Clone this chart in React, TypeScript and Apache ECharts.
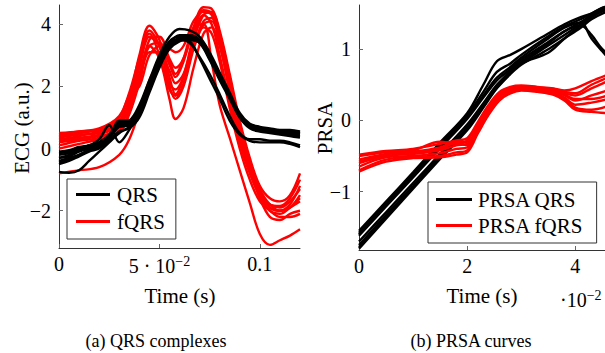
import React, { useEffect, useRef } from "react";
import * as echarts from "echarts";

// ---------- data ----------
const qrsTime = [0, 0.005, 0.01, 0.015, 0.02, 0.025, 0.03, 0.035, 0.04, 0.045, 0.05, 0.055, 0.06, 0.065, 0.07, 0.075, 0.08, 0.085, 0.09, 0.095, 0.1, 0.105, 0.11, 0.115, 0.12];
const qrs1 = [-0.3, -0.25, -0.1, 0.0, 0.1, 0.35, 0.7, 0.75, 1.2, 2.0, 2.75, 3.3, 3.55, 3.55, 3.45, 2.95, 2.3, 1.7, 1.05, 0.7, 0.6, 0.55, 0.5, 0.5, 0.45];
const qrs2 = [-0.1, -0.05, 0.05, 0.1, 0.2, 0.45, 0.85, 0.9, 1.4, 2.2, 3.0, 3.6, 3.85, 3.8, 3.6, 3.1, 2.45, 1.8, 1.15, 0.8, 0.7, 0.65, 0.6, 0.6, 0.55];
const qrs3 = [-0.5, -0.4, -0.25, -0.1, 0.0, 0.25, 0.55, 0.65, 1.0, 1.8, 2.6, 3.2, 3.45, 3.5, 3.4, 2.85, 2.2, 1.6, 1.0, 0.65, 0.55, 0.5, 0.45, 0.4, 0.35];
const qrs4 = [-0.75, -0.78, -0.7, -0.4, -0.1, 0.2, 0.5, 0.7, 1.1, 1.9, 2.7, 3.25, 3.5, 3.55, 3.45, 2.95, 2.3, 1.7, 1.05, 0.7, 0.6, 0.55, 0.5, 0.45, 0.45];
const qrs5 = [-0.2, -0.15, 0.0, 0.1, 0.3, 0.75, 0.2, 0.6, 1.15, 1.95, 2.75, 3.3, 3.5, 3.5, 3.4, 2.9, 2.25, 1.65, 1.0, 0.7, 0.6, 0.55, 0.5, 0.45, 0.4];
const qrs6 = [-0.4, -0.3, -0.2, -0.05, 0.05, 0.3, 0.9, 0.9, 1.35, 2.1, 2.9, 3.45, 3.6, 3.6, 3.5, 3.05, 2.4, 1.75, 1.1, 0.75, 0.65, 0.6, 0.55, 0.55, 0.5];
const qrs7 = [-0.3, -0.2, -0.05, 0.05, 0.15, 0.4, 0.75, 0.8, 1.3, 2.1, 2.9, 3.4, 3.5, 3.45, 2.9, 2.25, 1.6, 0.9, 0.45, 0.25, 0.2, 0.2, 0.2, 0.15, 0.05];
const qrs8 = [-0.45, -0.35, -0.2, -0.05, 0.1, 0.35, 0.7, 0.75, 1.25, 2.0, 2.85, 3.35, 3.5, 3.4, 2.95, 2.4, 1.75, 1.05, 0.5, 0.3, 0.3, 0.25, 0.25, 0.2, 0.1];
const qrs9 = [-0.15, -0.1, 0.0, 0.1, 0.2, 0.4, 0.8, 0.85, 1.3, 2.05, 2.85, 3.4, 3.65, 3.65, 3.5, 3.0, 2.35, 1.7, 1.05, 0.75, 0.65, 0.6, 0.55, 0.55, 0.5];

const fqrsTime = [0, 0.01, 0.02, 0.03, 0.035, 0.04, 0.045, 0.05, 0.055, 0.058, 0.062, 0.067, 0.072, 0.076, 0.08, 0.085, 0.09, 0.095, 0.1, 0.105, 0.11, 0.115, 0.12];
const fqrs1 = [0.4, 0.5, 0.6, 0.9, 1.6, 3.0, 3.95, 3.5, 2.3, 1.75, 2.3, 3.6, 4.3, 4.0, 3.0, 1.5, 0.2, -0.8, -1.5, -1.8, -1.9, -1.7, -1.3];
const fqrs2 = [0.2, 0.3, 0.4, 0.6, 1.2, 2.3, 3.3, 2.9, 1.6, 0.95, 1.3, 2.6, 3.7, 3.9, 3.3, 1.9, 0.5, -0.6, -1.4, -1.9, -2.0, -1.9, -1.7];
const fqrs3 = [0.3, 0.4, 0.55, 0.8, 1.4, 2.4, 3.3, 3.4, 2.8, 2.4, 2.9, 3.9, 4.0, 2.8, 1.4, 0.35, -0.7, -1.75, -2.75, -3.1, -2.95, -2.8, -2.6];
const fqrs4 = [0.45, 0.55, 0.6, 1.0, 1.7, 2.0, 3.0, 3.3, 2.7, 2.3, 2.8, 3.9, 4.55, 4.5, 3.8, 2.4, 0.9, -0.3, -1.2, -1.6, -1.7, -1.5, -0.8];
const fqrs5 = [0.1, 0.25, 0.35, 0.7, 1.5, 2.6, 3.6, 3.3, 2.1, 1.9, 2.3, 3.3, 4.1, 4.2, 3.5, 2.0, 0.5, -0.6, -1.5, -2.0, -2.1, -1.9, -1.6];
const fqrs6 = [-0.8, -0.7, -0.6, -0.2, 0.3, 1.2, 2.2, 2.8, 3.2, 3.1, 3.3, 4.1, 4.4, 4.3, 3.6, 2.2, 0.8, -0.4, -1.3, -1.8, -2.0, -1.9, -1.5];
const fqrs7 = [0.35, 0.45, 0.5, 0.85, 1.5, 2.8, 3.8, 3.3, 2.0, 1.6, 2.0, 3.2, 4.0, 4.1, 3.4, 1.8, 0.3, -0.7, -1.6, -2.2, -2.3, -2.1, -2.0];
const fqrs8 = [0.0, 0.15, 0.3, 0.5, 1.1, 2.1, 3.1, 3.1, 2.5, 2.1, 2.4, 3.5, 4.3, 4.4, 3.7, 2.3, 0.7, -0.5, -1.4, -1.9, -2.0, -1.8, -1.2];
const fqrs9 = [0.5, 0.55, 0.65, 1.05, 1.8, 2.9, 3.7, 3.0, 1.9, 1.7, 2.1, 3.3, 3.9, 3.7, 2.8, 1.3, 0.0, -1.0, -1.7, -2.0, -2.2, -2.2, -2.1];
const fqrs10 = [0.25, 0.35, 0.45, 0.75, 1.3, 2.2, 3.5, 3.6, 2.9, 2.6, 2.9, 3.8, 4.45, 4.35, 3.6, 2.1, 0.6, -0.5, -1.4, -1.8, -1.85, -1.6, -1.0];

// PRSA time axis in units of 10^-2 s
const prsaQrsTime = [0, 0.5, 1.0, 1.5, 2.0, 2.3, 2.55, 2.8, 3.0, 3.5, 3.8, 4.1, 4.3, 4.5, 4.7];
const prsaQrs1 = [-1.55, -1.14, -0.73, -0.31, 0.1, 0.5, 0.83, 0.92, 1.0, 1.22, 1.35, 1.45, 1.5, 1.58, 1.62];
const prsaQrs2 = [-1.62, -1.21, -0.8, -0.39, 0.02, 0.32, 0.56, 0.72, 0.85, 1.1, 1.25, 1.38, 1.48, 1.56, 1.6];
const prsaQrs3 = [-1.7, -1.29, -0.88, -0.47, -0.06, 0.24, 0.5, 0.68, 0.8, 1.05, 1.2, 1.35, 1.45, 1.55, 1.6];
const prsaQrs4 = [-1.8, -1.38, -0.96, -0.54, -0.14, 0.18, 0.45, 0.65, 0.78, 1.0, 1.15, 1.3, 1.42, 1.5, 1.55];
const prsaQrs5 = [-1.6, -1.18, -0.77, -0.36, 0.05, 0.35, 0.6, 0.75, 0.88, 1.15, 1.3, 1.37, 1.15, 0.97, 0.8];
const prsaQrs6 = [-1.75, -1.33, -0.92, -0.5, -0.1, 0.22, 0.48, 0.7, 0.82, 1.08, 1.25, 1.33, 1.2, 1.0, 0.9];
const prsaQrs7 = [-1.58, -1.16, -0.75, -0.34, 0.07, 0.4, 0.68, 0.8, 0.92, 1.18, 1.32, 1.42, 1.5, 1.58, 1.62];
const prsaQrs8 = [-1.78, -1.36, -0.94, -0.52, -0.12, 0.2, 0.46, 0.66, 0.8, 0.95, 1.15, 1.33, 1.45, 1.53, 1.58];

const prsaFqrsTime = [0, 0.5, 1.0, 1.5, 1.8, 2.0, 2.2, 2.4, 2.6, 2.8, 3.0, 3.3, 3.6, 3.8, 4.0, 4.3, 4.6];
const prsaFqrs1 = [-0.48, -0.43, -0.4, -0.33, -0.28, -0.25, -0.02, 0.22, 0.4, 0.47, 0.49, 0.47, 0.45, 0.42, 0.45, 0.55, 0.64];
const prsaFqrs2 = [-0.55, -0.47, -0.44, -0.38, -0.3, -0.3, -0.08, 0.18, 0.37, 0.45, 0.46, 0.44, 0.42, 0.38, 0.35, 0.45, 0.55];
const prsaFqrs3 = [-0.6, -0.5, -0.47, -0.42, -0.35, -0.33, -0.1, 0.15, 0.35, 0.44, 0.45, 0.43, 0.4, 0.35, 0.28, 0.35, 0.42];
const prsaFqrs4 = [-0.65, -0.52, -0.5, -0.46, -0.4, -0.38, -0.13, 0.12, 0.33, 0.42, 0.44, 0.42, 0.38, 0.32, 0.22, 0.25, 0.3];
const prsaFqrs5 = [-0.7, -0.55, -0.52, -0.5, -0.45, -0.42, -0.15, 0.1, 0.3, 0.4, 0.43, 0.41, 0.37, 0.3, 0.18, 0.15, 0.2];
const prsaFqrs6 = [-0.72, -0.58, -0.53, -0.52, -0.48, -0.45, -0.18, 0.08, 0.28, 0.38, 0.42, 0.4, 0.36, 0.28, 0.15, 0.12, 0.1];
const prsaFqrs7 = [-0.5, -0.45, -0.42, -0.3, -0.33, -0.28, -0.05, 0.2, 0.38, 0.46, 0.48, 0.46, 0.44, 0.4, 0.38, 0.5, 0.6];
const prsaFqrs8 = [-0.58, -0.48, -0.45, -0.4, -0.32, -0.35, -0.1, 0.16, 0.36, 0.45, 0.47, 0.45, 0.41, 0.36, 0.3, 0.3, 0.35];

const qrsCurves = [qrs1, qrs2, qrs3, qrs4, qrs5, qrs6, qrs7, qrs8, qrs9];
const fqrsCurves = [fqrs1, fqrs2, fqrs3, fqrs4, fqrs5, fqrs6, fqrs7, fqrs8, fqrs9, fqrs10];
const prsaQrsCurves = [prsaQrs1, prsaQrs2, prsaQrs3, prsaQrs4, prsaQrs5, prsaQrs6, prsaQrs7, prsaQrs8];
const prsaFqrsCurves = [prsaFqrs1, prsaFqrs2, prsaFqrs3, prsaFqrs4, prsaFqrs5, prsaFqrs6, prsaFqrs7, prsaFqrs8];

const leftXTicks = [0, 0.05, 0.1];
const leftYTicks = [-2, 0, 2, 4];
const rightXTicks = [0, 2, 4];
const rightYTicks = [-1, 0, 1];

// ---------- styling ----------
const FONT = "Liberation Serif";
const BLACK = "#000000";
const RED = "#ff0000";
const LW = 2.4;
const FS_TICK = 20;
const FS_TITLE = 21;
const FS_LEGEND = 21;
const FS_CAPTION = 18;

const fmtNum = (v: number) => (v < 0 ? "\u2212" + Math.abs(v) : String(v));

function axisCommon(ticks: number[]) {
  return {
    type: "value" as const,
    splitLine: { show: false },
    axisLine: { show: true, onZero: false, lineStyle: { color: "#333", width: 1 } },
    axisTick: { show: true, inside: true, length: 4, customValues: ticks, lineStyle: { color: "#666", width: 1 } },
  };
}

function lineSeries(name: string, xs: number[], ys: number[], color: string, idx: number) {
  return {
    type: "line" as const,
    name,
    xAxisIndex: idx,
    yAxisIndex: idx,
    data: xs.map((x, i) => [x, ys[i]]),
    showSymbol: false,
    symbol: "none",
    smooth: 0.35,
    clip: true,
    silent: true,
    lineStyle: { color, width: LW },
    itemStyle: { color },
  };
}

export default function App() {
  const ref = useRef<HTMLDivElement>(null);

  useEffect(() => {
    if (!ref.current) return;
    const chart = echarts.init(ref.current, undefined, { renderer: "svg" });

    const series: any[] = [];
    fqrsCurves.forEach((c) => series.push(lineSeries("fQRS", fqrsTime, c, RED, 0)));
    qrsCurves.forEach((c) => series.push(lineSeries("QRS", qrsTime, c, BLACK, 0)));
    prsaQrsCurves.forEach((c) => series.push(lineSeries("PRSA QRS", prsaQrsTime, c, BLACK, 1)));
    prsaFqrsCurves.forEach((c) => series.push(lineSeries("PRSA fQRS", prsaFqrsTime, c, RED, 1)));

    const labelBase = { color: "#000", fontFamily: FONT, fontSize: FS_TICK };
    const txt = (text: string, x: number, y: number, size: number, extra: any = {}) => ({
      type: "text",
      x,
      y,
      ...extra,
      style: { text, fill: "#000", fontFamily: FONT, fontSize: size, align: "center", verticalAlign: "middle" },
    });

    chart.setOption({
      animation: false,
      backgroundColor: "#fff",
      textStyle: { fontFamily: FONT },
      grid: [
        { left: 59, top: 5, width: 241, height: 243 },
        { left: 359, top: 5, width: 246, height: 245 },
      ],
      xAxis: [
        {
          ...axisCommon(leftXTicks),
          gridIndex: 0,
          min: 0,
          max: 0.12,
          axisLabel: {
            ...labelBase,
            margin: 6,
            customValues: leftXTicks,
            formatter: (v: number) =>
              Math.abs(v - 0.05) < 1e-9 ? "5 \u00b7 10{sup|\u22122}" : String(v),
            rich: { sup: { fontFamily: FONT, fontSize: 14, color: "#000", padding: [0, 0, 10, 0] } },
          },
        },
        {
          ...axisCommon(rightXTicks),
          gridIndex: 1,
          min: 0,
          max: 4.55,
          axisLabel: { ...labelBase, margin: 6, customValues: rightXTicks, formatter: fmtNum },
        },
      ],
      yAxis: [
        {
          ...axisCommon(leftYTicks),
          gridIndex: 0,
          min: -3.2,
          max: 4.62,
          axisLabel: { ...labelBase, margin: 8, customValues: leftYTicks, formatter: fmtNum },
        },
        {
          ...axisCommon(rightYTicks),
          gridIndex: 1,
          min: -1.82,
          max: 1.62,
          axisLabel: { ...labelBase, margin: 8, customValues: rightYTicks, formatter: fmtNum },
        },
      ],
      legend: [
        {
          data: ["QRS", "fQRS"],
          orient: "vertical",
          left: 67,
          top: 179,
          padding: [5, 11, 7, 9],
          itemGap: 6,
          itemWidth: 34,
          itemHeight: 3,
          icon: "rect",
          backgroundColor: "#fff",
          borderColor: "#333",
          borderWidth: 1,
          borderRadius: 0,
          selectedMode: false,
          textStyle: { color: "#000", fontFamily: FONT, fontSize: FS_LEGEND, padding: [0, 0, 0, 2] },
        },
        {
          data: ["PRSA QRS", "PRSA fQRS"],
          orient: "vertical",
          left: 428,
          top: 182,
          padding: [7, 13, 7, 8],
          itemGap: 5,
          itemWidth: 36,
          itemHeight: 3,
          icon: "rect",
          backgroundColor: "#fff",
          borderColor: "#333",
          borderWidth: 1,
          borderRadius: 0,
          selectedMode: false,
          textStyle: { color: "#000", fontFamily: FONT, fontSize: FS_LEGEND, padding: [0, 0, 0, 1] },
        },
      ],
      graphic: [
        txt("ECG (a.u.)", 22, 128, FS_TITLE, { rotation: Math.PI / 2 }),
        txt("PRSA", 325, 128, FS_TITLE, { rotation: Math.PI / 2 }),
        txt("Time (s)", 180, 296, FS_TITLE),
        txt("Time (s)", 482, 296, FS_TITLE),
        {
          type: "text",
          x: 560,
          y: 300,
          style: {
            text: "\u00b710{sup|\u22122}",
            fill: "#000",
            fontFamily: FONT,
            fontSize: FS_TICK,
            align: "left",
            verticalAlign: "middle",
            rich: { sup: { fontFamily: FONT, fontSize: 14, fill: "#000", padding: [0, 0, 10, 0] } },
          },
        },
        txt("(a) QRS complexes", 156, 341, FS_CAPTION),
        txt("(b) PRSA curves", 471, 341, FS_CAPTION),
      ],
      series,
    });

    return () => chart.dispose();
  }, []);

  return (
    <div
      ref={ref}
      style={{ position: "fixed", left: 0, top: 0, width: 605, height: 353, background: "#fff" }}
    />
  );
}
